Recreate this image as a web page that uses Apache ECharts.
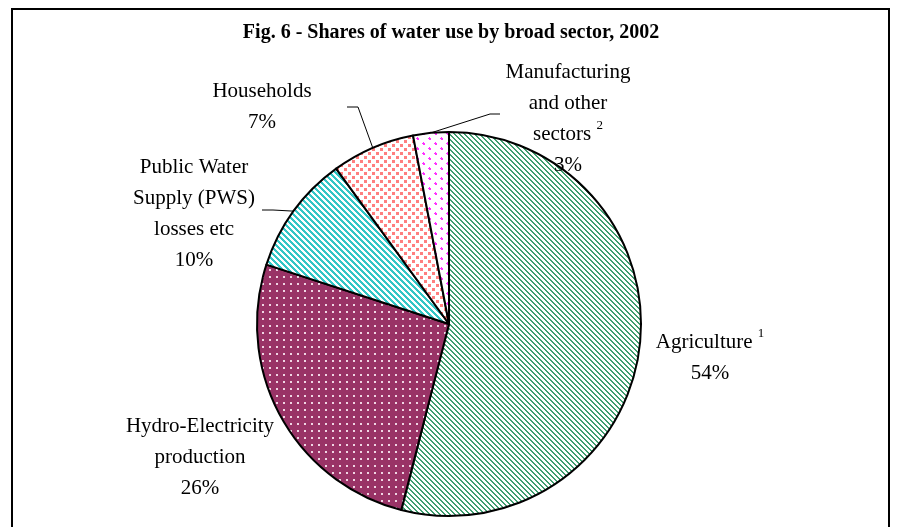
<!DOCTYPE html>
<html>
<head>
<meta charset="utf-8">
<script src="https://cdn.jsdelivr.net/npm/echarts@6/dist/echarts.min.js"></script>
<style>
  html, body { margin: 0; padding: 0; background: #fff; }
  #chart { width: 902px; height: 527px; }
</style>
</head>
<body>
<div id="chart"></div>
<script>
// Shares of water use by broad sector, 2002 (percent)
const sectors = ['Agriculture', 'Hydro-Electricity production', 'Public Water Supply (PWS) losses etc', 'Households', 'Manufacturing and other sectors'];
const shares = [54, 26, 10, 7, 3];
const labelText = [['Agriculture'], ['Hydro-Electricity', 'production'], ['Public Water', 'Supply (PWS)', 'losses etc'], ['Households'], ['Manufacturing', 'and other', 'sectors']];
const footnotes = ['1', '', '', '', '2'];
const chartTitle = 'Fig. 6 - Shares of water use by broad sector, 2002';

// Pixel-pattern fills for the slices
function tile(w, h, bg, fg, test) {
  const c = document.createElement('canvas');
  c.width = w; c.height = h;
  const ctx = c.getContext('2d');
  ctx.fillStyle = bg; ctx.fillRect(0, 0, w, h);
  ctx.fillStyle = fg;
  for (let y = 0; y < h; y++) for (let x = 0; x < w; x++) if (test(x, y)) ctx.fillRect(x, y, 1, 1);
  return { image: c, repeat: 'repeat' };
}
const mod = (a, n) => ((a % n) + n) % n;
const fills = [
  // wide downward diagonal, sea green
  tile(5, 5, '#ffffff', '#3f9f70', (x, y) => mod(x - y, 5) < 2),
  // plum with small light dots
  tile(7, 7, '#993366', '#f0d6e4', (x, y) => x >= 3 && x < 5 && y >= 3 && y < 5),
  // teal downward diagonal
  tile(6, 6, '#ffffff', '#33c6c6', (x, y) => mod(x - y, 6) < 3),
  // coral squares on white, staggered
  tile(8, 8, '#ffffff', '#ff7f7f', (x, y) => (x < 3 && y < 3) || (x >= 4 && x < 7 && y >= 4 && y < 7)),
  // magenta marks on white
  tile(12, 10, '#ffffff', '#ff33ff', (x, y) => {
    const m = (ox, oy) => { const dx = x - ox, dy = y - oy; return (dx === 1 && dy === 0) || (dx === 0 && dy === 1) || (dx === 1 && dy === 1) || (dx === 2 && dy === 1) || (dx === 1 && dy === 2) || (dx === 2 && dy === 2); };
    return m(2, 2) || m(8, 7);
  })
];

// Label anchors (block centre) and leader elbows
const labelPlace = [
  { x: 710, y: 358 },
  { x: 200, y: 457 },
  { x: 194, y: 214, elbow: [[273, 210], [262, 210]] },
  { x: 262, y: 107, elbow: [[358, 107], [347, 107]] },
  { x: 568, y: 119, elbow: [[490, 114], [500, 114]] }
];

const FONT = '"Liberation Serif", "Times New Roman", serif';

const data = sectors.map((name, i) => ({
  name: name,
  value: shares[i],
  itemStyle: { color: fills[i] },
  labelLine: { show: !!labelPlace[i].elbow }
}));

const chart = echarts.init(document.getElementById('chart'), null, { renderer: 'canvas' });
chart.setOption({
  animation: false,
  backgroundColor: '#ffffff',
  title: {
    text: chartTitle,
    left: 'center',
    top: 18,
    textStyle: { fontFamily: FONT, fontWeight: 'bold', fontSize: 20, color: '#000' }
  },
  graphic: [{
    type: 'rect',
    shape: { x: 12, y: 9, width: 877, height: 530 },
    style: { fill: 'none', stroke: '#000', lineWidth: 2 },
    silent: true
  }],
  series: [{
    type: 'pie',
    center: [449, 324],
    radius: [0, 192],
    startAngle: 90,
    clockwise: true,
    avoidLabelOverlap: false,
    itemStyle: { borderColor: '#000', borderWidth: 2 },
    label: {
      show: true,
      position: 'outside',
      color: '#000',
      fontFamily: FONT,
      formatter: p => {
        const lines = labelText[p.dataIndex].map(t => '{n|' + t + '}');
        const note = footnotes[p.dataIndex];
        if (note) lines[lines.length - 1] += '{g| }{s|' + note + '}';
        lines.push('{n|' + shares[p.dataIndex] + '%}');
        return lines.join('\n');
      },
      rich: {
        n: { fontFamily: FONT, fontSize: 21, lineHeight: 31, color: '#000' },
        g: { fontFamily: FONT, fontSize: 21, lineHeight: 31 },
        s: { fontFamily: FONT, fontSize: 13, lineHeight: 31, verticalAlign: 'top', color: '#000' }
      }
    },
    labelLine: { show: true, lineStyle: { color: '#000', width: 1 } },
    labelLayout: p => {
      const spot = labelPlace[p.dataIndex];
      const out = { x: spot.x, y: spot.y, align: 'center', verticalAlign: 'middle' };
      if (spot.elbow && p.labelLinePoints) {
        out.labelLinePoints = [p.labelLinePoints[0]].concat(spot.elbow);
      }
      return out;
    },
    data: data
  }]
});
</script>
</body>
</html>
